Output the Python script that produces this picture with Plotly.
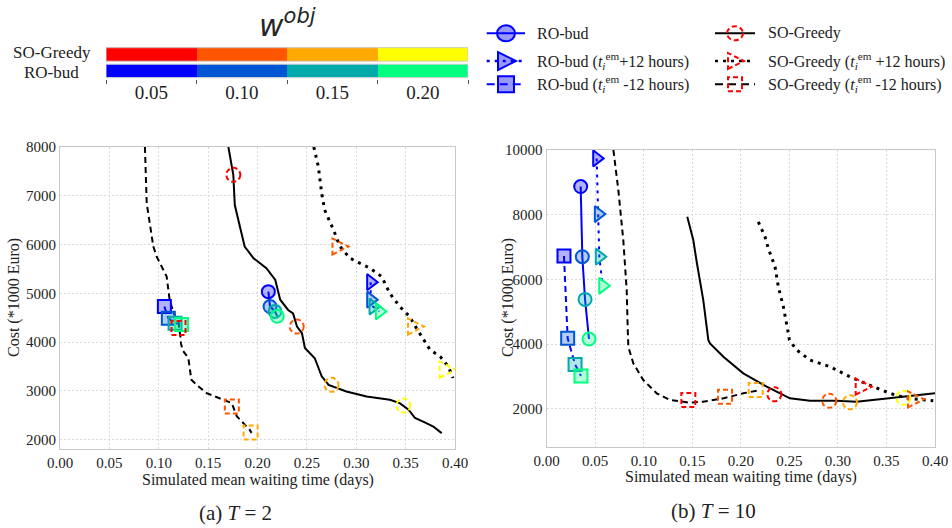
import plotly.graph_objects as go

W, H = 952, 528
SERIF = "Liberation Serif"

# ---------------- data ----------------
W_LEVELS = [0.05, 0.10, 0.15, 0.20]
SO_COLORS = ["#ff0000", "#ff5500", "#ffaa00", "#ffff00"]
RO_COLORS = ["#0000ff", "#0055d4", "#00aaaa", "#00ff80"]

# ---- (a) T = 2 ----
a_so_x = [0.1705, 0.1755, 0.177, 0.187, 0.196, 0.209, 0.218, 0.223, 0.231, 0.236, 0.240, 0.245,
          0.248, 0.258, 0.265, 0.272, 0.290, 0.3105, 0.334, 0.344, 0.353, 0.3595, 0.371, 0.378, 0.3865]
a_so_y = [8000, 7430, 6810, 5960, 5720, 5515, 5275, 4870, 4660, 4590, 4320, 4185,
          3880, 3670, 3300, 3125, 2990, 2885, 2820, 2750, 2615, 2445, 2340, 2270, 2135]
a_sop_x = [0.257, 0.2616, 0.265, 0.268, 0.277, 0.2835, 0.2937, 0.314, 0.3257, 0.334, 0.344, 0.354,
           0.361, 0.368, 0.3747, 0.385, 0.3932, 0.398]
a_sop_y = [8000, 7600, 7050, 6710, 6300, 5960, 5720, 5515, 5345, 5000, 4730, 4525,
           4285, 4050, 3845, 3705, 3500, 3265]
a_som_x = [0.086, 0.0878, 0.0945, 0.098, 0.108, 0.111, 0.115, 0.12, 0.122, 0.1225, 0.124, 0.130,
           0.133, 0.138, 0.1485, 0.162, 0.174, 0.179, 0.192, 0.194]
a_som_y = [8000, 6850, 5960, 5750, 5345, 4870, 4600, 4400, 4100, 3980, 3840, 3670,
           3230, 3130, 2955, 2850, 2750, 2480, 2205, 2140]

a_ro_x = [0.211, 0.2127, 0.2177, 0.220]
a_ro_y = [5035, 4730, 4630, 4530]
a_rop_x = [0.3146, 0.3146, 0.317, 0.3234]
a_rop_y = [5230, 4870, 4730, 4630]
a_rom_x = [0.1057, 0.1097, 0.1165, 0.123]
a_rom_y = [4730, 4490, 4390, 4360]

a_so_mk_w = [0.05, 0.10, 0.15, 0.20]
a_so_mk_x = [0.1755, 0.2397, 0.275, 0.3477]
a_so_mk_y = [7430, 4320, 3125, 2700]
a_som_mk_w = [0.05, 0.10, 0.15]
a_som_mk_x = [0.120, 0.174, 0.193]
a_som_mk_y = [4290, 2680, 2150]
a_sop_mk_w = [0.10, 0.15, 0.20]
a_sop_mk_x = [0.283, 0.3595, 0.3916]
a_sop_mk_y = [5960, 4320, 3435]

# ---- (b) T = 10 ----
b_so_x = [0.1448, 0.1476, 0.151, 0.1545, 0.158, 0.1613, 0.1665, 0.1682, 0.182, 0.2025, 0.2266,
          0.2506, 0.2712, 0.2987, 0.3193, 0.3536, 0.3776, 0.40]
b_so_y = [7935, 7575, 7215, 6545, 5980, 5360, 4125, 4020, 3607, 3094, 2680,
          2320, 2247, 2247, 2216, 2320, 2392, 2476]
b_sop_x = [0.218, 0.2249, 0.2283, 0.2352, 0.2386, 0.2438, 0.2489, 0.250, 0.2575, 0.2712, 0.2918,
           0.3124, 0.3364, 0.3536, 0.3708, 0.3982]
b_sop_y = [7780, 7317, 6958, 6390, 5771, 5153, 4330, 4124, 3814, 3505, 3298,
           2989, 2680, 2476, 2321, 2247]
b_som_x = [0.0687, 0.0738, 0.0789, 0.0824, 0.0835, 0.0841, 0.0892, 0.0995, 0.1133, 0.127, 0.1476,
           0.161, 0.182, 0.2025, 0.2163]
b_som_y = [10000, 8760, 7215, 5670, 4430, 3917, 3403, 2887, 2476, 2270, 2185,
           2217, 2320, 2476, 2556]

b_ro_x = [0.035, 0.0367, 0.0395, 0.0436]
b_ro_y = [8870, 6700, 5380, 4155]
b_rop_x = [0.0515, 0.0532, 0.0542, 0.0577]
b_rop_y = [9740, 8020, 6700, 5800]
b_rom_x = [0.0178, 0.0216, 0.0292, 0.0353]
b_rom_y = [6720, 4175, 3370, 3010]

b_so_mk_w = [0.05, 0.10, 0.15, 0.20]
b_so_mk_x = [0.2345, 0.2911, 0.3124, 0.3674]
b_so_mk_y = [2444, 2247, 2197, 2340]
b_som_mk_w = [0.05, 0.10, 0.15]
b_som_mk_x = [0.1459, 0.1837, 0.2153]
b_som_mk_y = [2270, 2370, 2578]
b_sop_mk_w = [0.05, 0.10]
b_sop_mk_x = [0.3255, 0.3794]
b_sop_mk_y = [2680, 2290]

X_TICKS = [0.0, 0.05, 0.10, 0.15, 0.20, 0.25, 0.30, 0.35, 0.40]
A_Y_TICKS = [2000, 3000, 4000, 5000, 6000, 7000, 8000]
B_Y_TICKS = [2000, 4000, 6000, 8000, 10000]

# ---------------- helpers ----------------
def rgba(hexc, a):
    hexc = hexc.lstrip("#")
    r, g, b = int(hexc[0:2], 16), int(hexc[2:4], 16), int(hexc[4:6], 16)
    return f"rgba({r},{g},{b},{a})"

def so_col(w):
    return SO_COLORS[W_LEVELS.index(w)]

def px_x(p):
    return p / W

def px_y(p):
    return 1 - p / H

fig = go.Figure()
shapes = []
annotations = []

BLUE = "#0000ff"
DOT = "3px,5px"
DASH = "6px,4px"
MKDASH = "5px,3px"

def panel(xa, ya, so, sop, som, ro, rop, rom, somk, sopmk, sommk):
    fig.add_trace(go.Scatter(x=so[0], y=so[1], mode="lines", xaxis=xa, yaxis=ya,
                             line=dict(color="black", width=2), showlegend=False, hoverinfo="skip"))
    fig.add_trace(go.Scatter(x=sop[0], y=sop[1], mode="lines", xaxis=xa, yaxis=ya,
                             line=dict(color="black", width=3, dash=DOT), showlegend=False, hoverinfo="skip"))
    fig.add_trace(go.Scatter(x=som[0], y=som[1], mode="lines", xaxis=xa, yaxis=ya,
                             line=dict(color="black", width=2, dash=DASH), showlegend=False, hoverinfo="skip"))
    for (xs, ys), sym, dash, size in [(ro, "circle", "solid", 13), (rop, "triangle-right", DOT, 14),
                                       (rom, "square", DASH, 13)]:
        fig.add_trace(go.Scatter(
            x=xs, y=ys, mode="lines+markers", xaxis=xa, yaxis=ya, showlegend=False,
            line=dict(color=BLUE, width=2, dash=dash),
            marker=dict(symbol=sym, size=size, color=[rgba(c, 0.3) for c in RO_COLORS],
                        line=dict(color=RO_COLORS, width=2))))
    for (ws, xs, ys), kind in [(somk, "circle"), (sopmk, "tri"), (sommk, "rect")]:
        for w, x, y in zip(ws, xs, ys):
            base = dict(xref=xa, yref=ya, xsizemode="pixel", ysizemode="pixel",
                        xanchor=x, yanchor=y, layer="above",
                        line=dict(color=so_col(w), width=2, dash=MKDASH))
            if kind == "circle":
                shapes.append(dict(type="circle", x0=-7, x1=7, y0=-7, y1=7, **base))
            elif kind == "rect":
                shapes.append(dict(type="rect", x0=-7, x1=7, y0=-7, y1=7, **base))
            else:
                shapes.append(dict(type="path", path="M -7,-8 L 9,0 L -7,8 Z", **base))

panel("x", "y", (a_so_x, a_so_y), (a_sop_x, a_sop_y), (a_som_x, a_som_y),
      (a_ro_x, a_ro_y), (a_rop_x, a_rop_y), (a_rom_x, a_rom_y),
      (a_so_mk_w, a_so_mk_x, a_so_mk_y), (a_sop_mk_w, a_sop_mk_x, a_sop_mk_y),
      (a_som_mk_w, a_som_mk_x, a_som_mk_y))
panel("x2", "y2", (b_so_x, b_so_y), (b_sop_x, b_sop_y), (b_som_x, b_som_y),
      (b_ro_x, b_ro_y), (b_rop_x, b_rop_y), (b_rom_x, b_rom_y),
      (b_so_mk_w, b_so_mk_x, b_so_mk_y), (b_sop_mk_w, b_sop_mk_x, b_sop_mk_y),
      (b_som_mk_w, b_som_mk_x, b_som_mk_y))

# ---------------- discrete colour bar (heatmap) ----------------
CB_ROWS = ["RO-bud", "SO-Greedy"]
all_cols = RO_COLORS + SO_COLORS
cscale = []
for i, c in enumerate(all_cols):
    cscale += [[i / 8, c], [(i + 1) / 8, c]]
fig.add_trace(go.Heatmap(x=W_LEVELS, y=CB_ROWS, z=[[0, 1, 2, 3], [4, 5, 6, 7]],
                         colorscale=cscale, zmin=-0.5, zmax=7.5, showscale=False,
                         ygap=3, xaxis="x3", yaxis="y3", hoverinfo="skip"))
for i in range(2):
    shapes.append(dict(type="rect", xref="x3", yref="y3", x0=0.025, x1=0.225,
                       y0=i - 0.41, y1=i + 0.41, line=dict(color="#cccccc", width=1), layer="above"))
# row labels, centred on each other as in the reference
for label, ypx in [("SO-Greedy", 53), ("RO-bud", 73)]:
    annotations.append(dict(xref="paper", yref="paper", x=px_x(51.5), y=px_y(ypx), text=label,
                            showarrow=False, xanchor="center", yanchor="middle",
                            font=dict(family=SERIF, size=17, color="#222")))

# ---------------- axes ----------------
axis_common = dict(showline=True, mirror=True, linecolor="#c8c8c8", linewidth=1.2,
                   showgrid=True, gridcolor="#d9d9d9", griddash="2px,2px", gridwidth=1,
                   ticks="", zeroline=False, automargin=False,
                   tickfont=dict(family=SERIF, size=15, color="#222"))
fig.update_layout(
    xaxis=dict(domain=[px_x(60), px_x(455)], range=[0, 0.4], tickvals=X_TICKS, tickformat=".2f",
               anchor="y", **axis_common),
    yaxis=dict(domain=[px_y(449), px_y(147)], range=[1810, 8000], tickvals=A_Y_TICKS,
               tickformat="d", anchor="x", **axis_common),
    xaxis2=dict(domain=[px_x(546.7), px_x(935)], range=[0, 0.4], tickvals=X_TICKS, tickformat=".2f",
                anchor="y2", **axis_common),
    yaxis2=dict(domain=[px_y(446.7), px_y(150)], range=[825, 10000], tickvals=B_Y_TICKS,
                tickformat="d", anchor="x2", **axis_common),
    xaxis3=dict(domain=[px_x(106), px_x(468)], range=[0.025, 0.225], tickvals=W_LEVELS,
                tickformat=".2f", anchor="y3", showgrid=False, zeroline=False, showline=False,
                ticks="", automargin=False,
                minor=dict(tickvals=[0.025, 0.075, 0.125, 0.175, 0.225], ticks="outside",
                           ticklen=4, tickcolor="#555", showgrid=False),
                tickfont=dict(family=SERIF, size=19, color="#222")),
    yaxis3=dict(domain=[px_y(79.2), px_y(46.2)], anchor="x3", showgrid=False, zeroline=False,
                showline=False, ticks="", showticklabels=False, automargin=False),
)

for x, y, t, ang in [(258, 480, "Simulated mean waiting time (days)", 0),
                     (741, 477, "Simulated mean waiting time (days)", 0),
                     (14, 298, "Cost (*1000 Euro)", -90),
                     (508, 298, "Cost (*1000 Euro)", -90)]:
    annotations.append(dict(xref="paper", yref="paper", x=px_x(x), y=px_y(y), text=t,
                            textangle=ang, showarrow=False, xanchor="center", yanchor="middle",
                            font=dict(family=SERIF, size=16, color="#222")))
for x, y, t in [(235, 513, "(a) <i>T</i> = 2"), (713, 511, "(b) <i>T</i> = 10")]:
    annotations.append(dict(xref="paper", yref="paper", x=px_x(x), y=px_y(y), text=t,
                            showarrow=False, xanchor="center", yanchor="middle",
                            font=dict(family=SERIF, size=21, color="#222")))
annotations.append(dict(xref="paper", yref="paper", x=px_x(287), y=px_y(24),
                        text="<i>w</i><sup><i>obj</i></sup>", showarrow=False,
                        xanchor="center", yanchor="middle",
                        font=dict(family="DejaVu Sans", size=30, color="#262626")))

# ---------------- manual legend ----------------
TEM = "<i>t</i><sub><i>i</i></sub><sup>em</sup>"
legend_items = [
    (0, 33.3, "RO-bud", "solid", "circle"),
    (0, 61, f"RO-bud ({TEM}+12 hours)", DOT, "tri"),
    (0, 84.3, f"RO-bud ({TEM} -12 hours)", "8px,5px", "rect"),
    (1, 33.3, "SO-Greedy", "solid", "circle"),
    (1, 61, f"SO-Greedy ({TEM} +12 hours)", DOT, "tri"),
    (1, 84.3, f"SO-Greedy ({TEM} -12 hours)", "8px,5px", "rect"),
]
cols = [(486.7, 525, 506, 535), (715, 755, 735, 766)]
for col, ry, label, dash, kind in legend_items:
    x0, x1, xm, xt = cols[col]
    lc = BLUE if col == 0 else "black"
    lw = 2.5 if dash == DOT else 2
    shapes.append(dict(type="line", xref="paper", yref="paper", x0=px_x(x0), x1=px_x(x1),
                       y0=px_y(ry), y1=px_y(ry), line=dict(color=lc, width=lw, dash=dash)))
    if col == 0:
        mline = dict(color=BLUE, width=2)
        fill = rgba(BLUE, 0.4)
        r = 9
    else:
        mline = dict(color="#ff0000", width=2, dash=MKDASH)
        fill = "rgba(0,0,0,0)"
        r = 8
    base = dict(xref="paper", yref="paper", xsizemode="pixel", ysizemode="pixel",
                xanchor=px_x(xm), yanchor=px_y(ry), line=mline, fillcolor=fill)
    if kind == "circle":
        shapes.append(dict(type="circle", x0=-r, x1=r, y0=-r + 1, y1=r - 1, **base))
    elif kind == "rect":
        shapes.append(dict(type="rect", x0=-r + 1, x1=r - 1, y0=-r + 1, y1=r - 1, **base))
    else:
        shapes.append(dict(type="path", path=f"M -{r-1},-{r} L {r+1},0 L -{r-1},{r} Z", **base))
    annotations.append(dict(xref="paper", yref="paper", x=px_x(xt), y=px_y(ry), text=label,
                            showarrow=False, xanchor="left", yanchor="middle",
                            font=dict(family=SERIF, size=16, color="#222")))

fig.update_layout(width=W, height=H, margin=dict(l=0, r=0, t=0, b=0, pad=0, autoexpand=False),
                  paper_bgcolor="white", plot_bgcolor="white", showlegend=False,
                  shapes=shapes, annotations=annotations)
fig.write_html("out.html")
